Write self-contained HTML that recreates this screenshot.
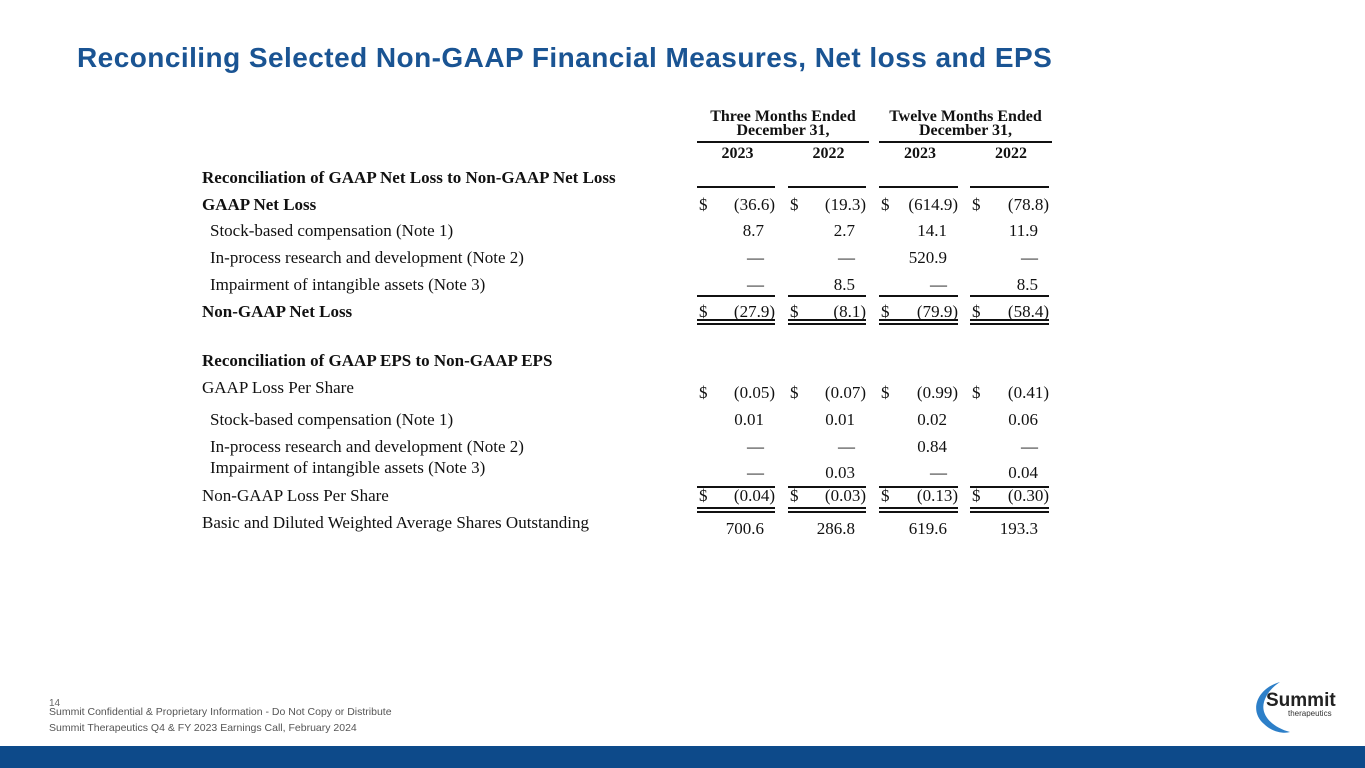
<!DOCTYPE html>
<html><head><meta charset="utf-8"><style>
body{margin:0;width:1365px;height:768px;position:relative;overflow:hidden;background:#fff;font-family:"Liberation Serif",serif;color:#111}
.a{position:absolute;white-space:nowrap}
.t{font-size:17px;line-height:17px}
.b{font-weight:bold}
.r{text-align:right}
.ln{position:absolute;height:2px;background:#111}
</style></head><body>
<div class="a" style="left:77px;top:42px;font:bold 28px 'Liberation Sans',sans-serif;color:#1a5493;letter-spacing:0.45px">Reconciling Selected Non-GAAP Financial Measures, Net loss and EPS</div>
<div id="tbl"></div>
<div class="a" style="left:49px;top:698px;font:10px 'Liberation Sans',sans-serif;color:#666">14</div>
<div class="a" style="left:49px;top:706px;font:10.5px 'Liberation Sans',sans-serif;color:#555">Summit Confidential &amp; Proprietary Information - Do Not Copy or Distribute</div>
<div class="a" style="left:49px;top:722px;font:10.5px 'Liberation Sans',sans-serif;color:#555">Summit Therapeutics Q4 &amp; FY 2023 Earnings Call, February 2024</div>
<svg class="a" style="left:1250px;top:680px" width="90" height="56">
<path d="M30 2 C8 8 -2 30 14 44 C22 52 34 54 40 52 C24 48 10 36 14 22 C17 12 24 6 30 2Z" fill="#2d7fc8"/>
<text x="16" y="26" font-family="Liberation Sans,sans-serif" font-weight="bold" font-size="19" fill="#222">Summit</text>
<text x="38" y="36" font-family="Liberation Sans,sans-serif" font-size="8" fill="#333">therapeutics</text>
</svg>
<div class="a" style="left:0;top:746px;width:1365px;height:22px;background:#0d4a8a"></div>
<script>
const colLeft=[697,788,879,970];
const colW=[81,81,82,82];
const rowLabels=["GAAP Net Loss","Stock-based compensation (Note 1)","In-process research and development (Note 2)","Impairment of intangible assets (Note 3)","Non-GAAP Net Loss","GAAP Loss Per Share","Stock-based compensation (Note 1)","In-process research and development (Note 2)","Impairment of intangible assets (Note 3)","Non-GAAP Loss Per Share","Basic and Diluted Weighted Average Shares Outstanding"];
const q4_2023=["(36.6)","8.7","—","—","(27.9)","(0.05)","0.01","—","—","(0.04)","700.6"];
const q4_2022=["(19.3)","2.7","—","8.5","(8.1)","(0.07)","0.01","—","0.03","(0.03)","286.8"];
const fy_2023=["(614.9)","14.1","520.9","—","(79.9)","(0.99)","0.02","0.84","—","(0.13)","619.6"];
const fy_2022=["(78.8)","11.9","—","8.5","(58.4)","(0.41)","0.06","—","0.04","(0.30)","193.3"];
const rowY=[196,222,249,276,303,379,411,438,459,487,514];
const valY=[196,222,249,276,303,384,411,438,464,487,520];
const bold=[1,0,0,0,1,0,0,0,0,0,0];
const indent=[0,1,1,1,0,0,1,1,1,0,0];
const dollar=[1,0,0,0,1,1,0,0,0,1,0];
const T=document.getElementById('tbl');
function add(html,cls,st,name){const d=document.createElement('div');d.className='a t '+cls;d.style.cssText=st;d.textContent=html;


T.appendChild(d);return d;}
function line(x,y,w,name){const d=document.createElement('div');d.className='ln';d.style.cssText=`left:${x}px;top:${y}px;width:${w}px`;


T.appendChild(d);}
add("Three Months Ended","b","left:697px;top:108px;width:172px;text-align:center;font-size:16px","header-three-months");
add("December 31,","b","left:697px;top:122px;width:172px;text-align:center;font-size:16px","header-three-months-date");
add("Twelve Months Ended","b","left:879px;top:108px;width:173px;text-align:center;font-size:16px","header-twelve-months");
add("December 31,","b","left:879px;top:122px;width:173px;text-align:center;font-size:16px","header-twelve-months-date");
line(697,141,172,'header-rule');line(879,141,173,'header-rule');
const years=["2023","2022","2023","2022"];
years.forEach((y,i)=>add(y,"b",`left:${colLeft[i]}px;top:145px;width:${colW[i]}px;text-align:center;font-size:16px`,'year-header'));
add("Reconciliation of GAAP Net Loss to Non-GAAP Net Loss","b","left:202px;top:169px","section-net-loss-title");
add("Reconciliation of GAAP EPS to Non-GAAP EPS","b","left:202px;top:352px","section-eps-title");
colLeft.forEach((x,i)=>{line(x,186,colW[i]-3,'section-top-rule');line(x,295,colW[i]-3,'subtotal-rule');line(x,319,colW[i]-3,'total-double-rule');line(x,323,colW[i]-3,'total-double-rule');
line(x,486,colW[i]-3,'eps-subtotal-rule');line(x,507,colW[i]-3,'eps-double-rule');line(x,511,colW[i]-3,'eps-double-rule');});
const cols=[q4_2023,q4_2022,fy_2023,fy_2022];
rowLabels.forEach((l,r)=>{
 add(l,bold[r]?"b":"",`left:${indent[r]?210:202}px;top:${rowY[r]}px`,'row-label');
 cols.forEach((c,i)=>{
  const v=c[r];const paren=v.endsWith(')');
  if(dollar[r]) add("$","",`left:${colLeft[i]+2}px;top:${valY[r]}px`,'dollar-sign');
  const right=colLeft[i]+colW[i]-3-(paren?0:11);
  add(v,"r",`left:${right-90}px;width:90px;top:${valY[r]}px`,'cell-value');
 });
});
</script>
</body></html>
